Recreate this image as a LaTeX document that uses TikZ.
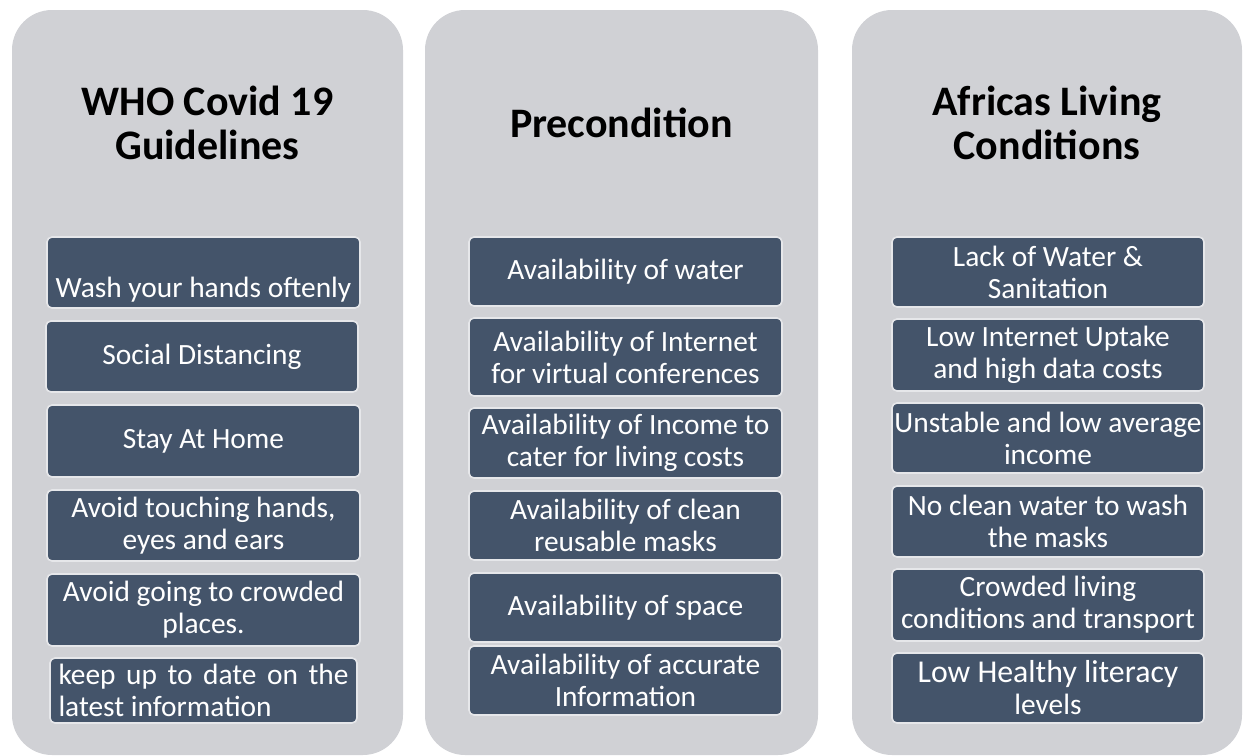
\documentclass[tikz,border=0pt]{standalone}
\usepackage{fontspec}
\setmainfont{Carlito}
\usepackage{tikz}
\usetikzlibrary{calc}
\hyphenpenalty=10000

\definecolor{panelgrey}{RGB}{208,209,213}
\definecolor{slate}{RGB}{68,84,106}
\definecolor{rimgrey}{RGB}{230,231,234}

\tikzset{
   cell/.style = {draw=rimgrey, line width=0.8pt, fill=slate, rounded corners=2.5pt,
      text=white, align=center, inner sep=0pt, font=\fontsize{14.7}{16}\selectfont},
   heading/.style = {align=center, inner sep=0pt, font=\bfseries\fontsize{21}{22}\selectfont}
}
\newcommand{\greypanel}[4]{
   \fill[panelgrey, rounded corners=20pt] (#1,#2) rectangle (#3,#4);
}
\newcommand{\cellbox}[6]{
   \node[cell, minimum width=(#4-#2)*0.5pt, minimum height=(#5-#3)*0.5pt] (#1) at ($ (#2,#3)!.5!(#4,#5) $) {#6};
}

\begin{document}
\begin{tikzpicture}[x=0.5pt, y=-0.5pt]
		\useasboundingbox (0,0) rectangle (1244,756);

		% Panels
		\greypanel{12}{10}{403}{755}
		\greypanel{425}{10}{818}{755}
		\greypanel{852}{10}{1242}{755}

		% Titles
		\node[heading] (whoT) at (207.5,123) {WHO Covid 19\\Guidelines};
		\node[heading] (preT) at (621.5,123) {Precondition};
		\node[heading] (afrT) at (1047,123) {Africas Living\\Conditions};

		% Guidelines
		\cellbox{who1}{47}{237}{360}{308}{\strut\\Wash your hands oftenly}
		\cellbox{who2}{46}{321}{358}{392}{Social Distancing}
		\cellbox{who3}{47}{405}{360}{477}{Stay At Home}
		\cellbox{who4}{47}{490}{360}{561}{Avoid touching hands,\\eyes and ears}
		\cellbox{who5}{47}{574}{360}{646}{Avoid going to crowded\\places.}
		\node[cell, align=justify, text width=145pt, minimum width=153.5pt, minimum height=32.5pt] (who6)
			at ($ (50,658)!.5!(357,723) $) {keep up to date on the latest information};

		% Preconditions
		\cellbox{pre1}{469}{237}{782}{306}{Availability of water}
		\cellbox{pre2}{469}{318}{782}{396}{Availability of Internet\\for virtual conferences}
		\cellbox{pre3}{469}{408}{782}{478}{Availability of Income to\\cater for living costs}
		\cellbox{pre4}{469}{491}{782}{560}{Availability of clean\\reusable masks}
		\cellbox{pre5}{469}{573}{782}{642}{Availability of space}
		\cellbox{pre6}{469}{646}{782}{715}{Availability of accurate\\Information}

		% Living conditions
		\cellbox{afr1}{892}{237}{1204}{307}{Lack of Water \&\\Sanitation}
		\cellbox{afr2}{892}{319}{1204}{391}{Low Internet Uptake\\and high data costs}
		\cellbox{afr3}{892}{403}{1204}{473}{Unstable and low average\\income}
		\cellbox{afr4}{892}{486}{1204}{557}{No clean water to wash\\the masks}
		\cellbox{afr5}{892}{569}{1204}{641}{Crowded living\\conditions and transport}
		\cellbox{afr6}{892}{653}{1204}{723}{\fontsize{15.9}{16.5}\selectfont Low Healthy literacy\\levels}
	\end{tikzpicture}
\end{document}
